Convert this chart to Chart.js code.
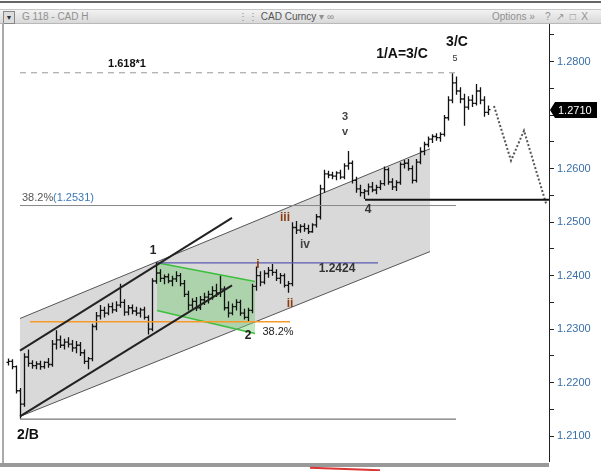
<!DOCTYPE html>
<html lang="en">
<head>
<meta charset="UTF-8">
<title>G 118 - CAD H</title>
<script src="https://cdn.jsdelivr.net/npm/chart.js"></script>
<style>
body { margin: 0; background: #fff; font-family: "Liberation Sans", Arial, sans-serif; }
#wrap { position: relative; width: 601px; height: 471px; overflow: hidden; background: #fff; }
#chart { position: absolute; left: 0; top: 0; }
#topline { position: absolute; left: 0; top: 1px; width: 601px; height: 2px; background: #666; }
#header { position: absolute; left: 0; top: 9px; width: 601px; height: 13px; background: linear-gradient(#f2f2f2, #d9d9d9); border-top: 1px solid #c8c8c8; border-bottom: 1px solid #b8b8b8; font-size: 10px; color: #909090; line-height: 13px; }
#header span { position: absolute; top: 0; }
#drop { position: absolute; left: 3px; top: 1px; width: 10px; height: 11px; background: #ddd; border: 1px solid #888; font-size: 7px; line-height: 11px; text-align: center; color: #333; }
#leftline { position: absolute; left: 2px; top: 23px; width: 2px; height: 441px; background: #aaa; }
#bottombar { position: absolute; left: 0; top: 463px; width: 549px; height: 4px; background: #999; }
#redline { position: absolute; left: 310px; top: 468px; width: 70px; height: 2px; background: #d33; transform: rotate(2deg); }
</style>
</head>
<body>
<div id="wrap">
  <canvas id="chart" width="601" height="471"></canvas>
  <div id="topline"></div>
  <div id="header">
    <div id="drop">&#9660;</div>
    <span style="left:22px">G 118 - CAD H</span>
    <span style="left:238px">&#8942;&#8942; <span style="position:static;color:#555">CAD Curncy</span> &#9662; &#8734;</span>
    <span style="left:492px">Options &#187;</span>
    <span style="left:545px">?&nbsp;&nbsp;&#8599;&nbsp;&nbsp;&#9633;&nbsp;&nbsp;X</span>
  </div>
  <div id="leftline"></div>
  <div id="bottombar"></div>
  <div id="redline"></div>
</div>

<script>
// hourly bars (bar index = hour)
const opens = [
  1.2238, 1.2240, 1.2230, 1.2185, 1.2160, 1.2248, 1.2236, 1.2232, 1.2235, 1.2230,
  1.2238, 1.2234, 1.2272, 1.2280, 1.2270, 1.2276, 1.2272, 1.2265, 1.2270, 1.2256,
  1.2240, 1.2245, 1.2305, 1.2325, 1.2335, 1.2330, 1.2342, 1.2336, 1.2345, 1.2350,
  1.2332, 1.2340, 1.2334, 1.2330, 1.2336, 1.2322, 1.2300, 1.2390, 1.2405, 1.2395,
  1.2398, 1.2390, 1.2394, 1.2400, 1.2385, 1.2365, 1.2345, 1.2352, 1.2340, 1.2355,
  1.2360, 1.2365, 1.2372, 1.2368, 1.2375, 1.2340, 1.2330, 1.2342, 1.2350, 1.2330,
  1.2322, 1.2335, 1.2380, 1.2400, 1.2388, 1.2404, 1.2410, 1.2406, 1.2395, 1.2400,
  1.2382, 1.2385, 1.2490, 1.2485, 1.2492, 1.2488, 1.2482, 1.2495, 1.2510, 1.2562,
  1.2590, 1.2588, 1.2586, 1.2592, 1.2584, 1.2605, 1.2610, 1.2578, 1.2562, 1.2555,
  1.2558, 1.2566, 1.2560, 1.2565, 1.2572, 1.2598, 1.2575, 1.2566, 1.2574, 1.2608,
  1.2610, 1.2600, 1.2578, 1.2612, 1.2632, 1.2645, 1.2655, 1.2660, 1.2658, 1.2664,
  1.2695, 1.2728, 1.2760, 1.2745, 1.2730, 1.2715, 1.2728, 1.2722, 1.2745, 1.2728,
  1.2705
];
const highs = [
  1.2245, 1.2244, 1.2232, 1.2190, 1.2255, 1.2262, 1.2242, 1.2240, 1.2241, 1.2240,
  1.2246, 1.2280, 1.2298, 1.2288, 1.2282, 1.2285, 1.2280, 1.2278, 1.2276, 1.2262,
  1.2248, 1.2310, 1.2332, 1.2345, 1.2342, 1.2348, 1.2350, 1.2352, 1.2385, 1.2356,
  1.2345, 1.2346, 1.2342, 1.2340, 1.2342, 1.2326, 1.2395, 1.2425, 1.2412, 1.2402,
  1.2404, 1.2400, 1.2408, 1.2405, 1.2392, 1.2372, 1.2358, 1.2360, 1.2362, 1.2368,
  1.2372, 1.2380, 1.2385, 1.2400, 1.2380, 1.2352, 1.2348, 1.2356, 1.2355, 1.2338,
  1.2340, 1.2385, 1.2417, 1.2408, 1.2410, 1.2416, 1.2422, 1.2412, 1.2405, 1.2404,
  1.2390, 1.2500, 1.2502, 1.2496, 1.2498, 1.2495, 1.2498, 1.2515, 1.2570, 1.2598,
  1.2596, 1.2594, 1.2595, 1.2598, 1.2610, 1.2633, 1.2615, 1.2585, 1.2570, 1.2562,
  1.2572, 1.2575, 1.2570, 1.2578, 1.2604, 1.2602, 1.2582, 1.2578, 1.2612, 1.2616,
  1.2618, 1.2606, 1.2618, 1.2640, 1.2650, 1.2660, 1.2664, 1.2666, 1.2668, 1.2700,
  1.2735, 1.2778, 1.2772, 1.2752, 1.2740, 1.2735, 1.2738, 1.2758, 1.2752, 1.2735,
  1.2718
];
const lows = [
  1.2232, 1.2225, 1.2180, 1.2133, 1.2155, 1.2230, 1.2226, 1.2225, 1.2224, 1.2226,
  1.2228, 1.2230, 1.2262, 1.2265, 1.2262, 1.2266, 1.2258, 1.2255, 1.2250, 1.2235,
  1.2225, 1.2240, 1.2298, 1.2318, 1.2322, 1.2326, 1.2330, 1.2332, 1.2340, 1.2325,
  1.2326, 1.2328, 1.2325, 1.2322, 1.2318, 1.2290, 1.2296, 1.2385, 1.2388, 1.2384,
  1.2386, 1.2380, 1.2388, 1.2380, 1.2360, 1.2335, 1.2338, 1.2334, 1.2336, 1.2345,
  1.2348, 1.2355, 1.2360, 1.2360, 1.2335, 1.2322, 1.2326, 1.2335, 1.2325, 1.2318,
  1.2314, 1.2330, 1.2372, 1.2380, 1.2384, 1.2396, 1.2400, 1.2390, 1.2385, 1.2378,
  1.2368, 1.2380, 1.2478, 1.2480, 1.2482, 1.2478, 1.2480, 1.2490, 1.2505, 1.2555,
  1.2582, 1.2580, 1.2578, 1.2580, 1.2580, 1.2598, 1.2572, 1.2555, 1.2548, 1.2543,
  1.2550, 1.2556, 1.2552, 1.2560, 1.2568, 1.2570, 1.2560, 1.2558, 1.2570, 1.2600,
  1.2596, 1.2572, 1.2574, 1.2608, 1.2625, 1.2640, 1.2648, 1.2652, 1.2650, 1.2660,
  1.2690, 1.2722, 1.2738, 1.2722, 1.2680, 1.2710, 1.2715, 1.2718, 1.2720, 1.2697,
  1.2700
];
const closes = [
  1.2240, 1.2230, 1.2185, 1.2160, 1.2248, 1.2236, 1.2232, 1.2235, 1.2230, 1.2238,
  1.2234, 1.2272, 1.2280, 1.2270, 1.2276, 1.2272, 1.2265, 1.2270, 1.2256, 1.2240,
  1.2245, 1.2305, 1.2325, 1.2335, 1.2330, 1.2342, 1.2336, 1.2345, 1.2350, 1.2332,
  1.2340, 1.2334, 1.2330, 1.2336, 1.2322, 1.2300, 1.2390, 1.2405, 1.2395, 1.2398,
  1.2390, 1.2394, 1.2400, 1.2385, 1.2365, 1.2345, 1.2352, 1.2340, 1.2355, 1.2360,
  1.2365, 1.2372, 1.2368, 1.2375, 1.2340, 1.2330, 1.2342, 1.2350, 1.2330, 1.2322,
  1.2335, 1.2380, 1.2400, 1.2388, 1.2404, 1.2410, 1.2406, 1.2395, 1.2400, 1.2382,
  1.2385, 1.2490, 1.2485, 1.2492, 1.2488, 1.2482, 1.2495, 1.2510, 1.2562, 1.2590,
  1.2588, 1.2586, 1.2592, 1.2584, 1.2605, 1.2610, 1.2578, 1.2562, 1.2555, 1.2558,
  1.2566, 1.2560, 1.2565, 1.2572, 1.2598, 1.2575, 1.2566, 1.2574, 1.2608, 1.2610,
  1.2600, 1.2578, 1.2612, 1.2632, 1.2645, 1.2655, 1.2660, 1.2658, 1.2664, 1.2695,
  1.2728, 1.2760, 1.2745, 1.2730, 1.2715, 1.2728, 1.2722, 1.2745, 1.2728, 1.2705,
  1.2710
];

// drawn studies: [barIndex, price] pairs
const channelTop = [[3, 1.2320], [105.5, 1.2637]];
const channelBottom = [[3, 1.2137], [105.5, 1.2445]];
const trendUpper = [[3, 1.2260], [56, 1.2508]];
const trendLower = [[3, 1.2137], [56, 1.2382]];
const flagTop = [[37.25, 1.2424], [61.75, 1.2389]];
const flagBottom = [[37.25, 1.2335], [61.75, 1.2292]];
const retrace382 = [[5.5, 1.2314], [70.5, 1.2314]];
const level1 = [[37.25, 1.2424], [92.5, 1.2424]];
const lowLine = [[3, 1.2132], [112, 1.2132]];
const fib382 = [[3, 1.2531], [112, 1.2531]];
const fib1618 = [[3, 1.2779], [112, 1.2779]];
const wave4Line = [[89.25, 1.2542], [135.25, 1.2542]];
const projection = [[121.5, 1.2717], [125.75, 1.2615], [129, 1.2671], [134.5, 1.2535]];

// wave labels: text, barIndex, price, colour, font
const waveLabels = [
  ['1/A=3/C', 98.5, 1.2814, '#111', 'bold 14px "Liberation Sans"'],
  ['3/C', 112.25, 1.2836, '#111', 'bold 14px "Liberation Sans"'],
  ['5', 111.75, 1.2806, '#333', '9px "Liberation Sans"'],
  ['1.618*1', 29.75, 1.2796, '#111', 'bold 11px "Liberation Sans"'],
  ['1', 36.25, 1.2446, '#222', 'bold 12px "Liberation Sans"'],
  ['2', 60, 1.2288, '#222', 'bold 12px "Liberation Sans"'],
  ['38.2%', 67.5, 1.2294, '#222', '11px "Liberation Sans"'],
  ['i', 62.5, 1.2421, '#8a3c10', 'bold 12px "Liberation Sans"'],
  ['ii', 70.5, 1.2348, '#8a3c10', 'bold 12px "Liberation Sans"'],
  ['iii', 69.25, 1.2509, '#8a3c10', 'bold 12px "Liberation Sans"'],
  ['iv', 74.25, 1.2458, '#444', 'bold 12px "Liberation Sans"'],
  ['v', 84.25, 1.2669, '#444', 'bold 11px "Liberation Sans"'],
  ['3', 84.25, 1.2697, '#444', 'bold 11px "Liberation Sans"'],
  ['4', 90, 1.2523, '#333', 'bold 12px "Liberation Sans"'],
  ['2/B', 5, 1.2102, '#111', 'bold 14px "Liberation Sans"'],
  ['1.2424', 82.25, 1.2413, '#333', 'bold 12px "Liberation Sans"']
];
const fibLabel = ['38.2%(1.2531)', 3.5, 1.2545];

const pts = arr => arr.map(p => ({ x: p[0], y: p[1] }));

function lineSet(arr, color, width, extra) {
  return Object.assign({
    data: pts(arr), borderColor: color, borderWidth: width,
    pointRadius: 0, fill: false, tension: 0, order: 1
  }, extra || {});
}

// OHLC bars go on top of the channel/flag fills, under the drawn lines
const ohlcPlugin = {
  id: 'ohlc',
  afterDatasetDraw(chart, args) {
    if (!chart.data.datasets[args.index].barsAfter) return;
    const { ctx, scales: { x, y } } = chart;
    ctx.save();
    ctx.strokeStyle = '#111';
    ctx.lineWidth = 1.3;
    for (let i = 0; i < closes.length; i++) {
      const px = Math.round(x.getPixelForValue(i)) + 0.5;
      ctx.beginPath();
      ctx.moveTo(px, y.getPixelForValue(highs[i]));
      ctx.lineTo(px, y.getPixelForValue(lows[i]));
      ctx.moveTo(px - 2, y.getPixelForValue(opens[i]));
      ctx.lineTo(px, y.getPixelForValue(opens[i]));
      ctx.moveTo(px, y.getPixelForValue(closes[i]));
      ctx.lineTo(px + 2, y.getPixelForValue(closes[i]));
      ctx.stroke();
    }
    ctx.restore();
  }
};

const textPlugin = {
  id: 'labels',
  afterDraw(chart) {
    const { ctx, scales: { x, y } } = chart;
    ctx.save();
    ctx.textAlign = 'center';
    ctx.textBaseline = 'middle';
    waveLabels.forEach(l => {
      ctx.font = l[4];
      ctx.fillStyle = l[3];
      ctx.fillText(l[0], x.getPixelForValue(l[1]), y.getPixelForValue(l[2]));
    });
    ctx.textAlign = 'left';
    ctx.font = '11px "Liberation Sans"';
    ctx.fillStyle = '#555';
    ctx.fillText('38.2%', x.getPixelForValue(fibLabel[1]), y.getPixelForValue(fibLabel[2]));
    ctx.fillStyle = '#3a78b8';
    ctx.fillText('(1.2531)', x.getPixelForValue(fibLabel[1]) + 31, y.getPixelForValue(fibLabel[2]));

    // last price tag on the axis
    const last = closes[closes.length - 1];
    const py = Math.round(y.getPixelForValue(last));
    const ax = y.left;
    ctx.fillStyle = '#000';
    ctx.beginPath();
    ctx.moveTo(ax + 1, py);
    ctx.lineTo(ax + 6, py - 8);
    ctx.lineTo(ax + 48, py - 8);
    ctx.lineTo(ax + 48, py + 8);
    ctx.lineTo(ax + 6, py + 8);
    ctx.closePath();
    ctx.fill();
    ctx.fillStyle = '#fff';
    ctx.font = '11px "Liberation Sans"';
    ctx.fillText(last.toFixed(4), ax + 9, py + 1);
    ctx.restore();
  }
};

const datasets = [
  // gray channel
  lineSet(channelTop, '#555', 1, { fill: '+1', backgroundColor: '#d9d9d9', order: 20 }),
  lineSet(channelBottom, '#555', 1, { order: 19 }),
  // green flag
  lineSet(flagTop, '#3cbf3c', 1.5, { fill: '+1', backgroundColor: 'rgba(120,205,120,0.45)', order: 18 }),
  lineSet(flagBottom, '#3cbf3c', 1.5, { order: 17, barsAfter: true }),
  lineSet(trendUpper, '#222', 2),
  lineSet(trendLower, '#222', 2),
  lineSet(retrace382, '#f79a2a', 1.5),
  lineSet(level1, '#5a5ab0', 1.3),
  lineSet(lowLine, '#555', 1),
  lineSet(fib382, '#888', 1),
  lineSet(fib1618, '#999', 1, { borderDash: [6, 5] }),
  lineSet(wave4Line, '#111', 2),
  lineSet(projection, '#555', 2, { borderDash: [2, 2] })
];

const chart = new Chart(document.getElementById('chart'), {
  type: 'line',
  data: { datasets: datasets },
  options: {
    responsive: false,
    animation: false,
    layout: { padding: { left: 4, top: 23, bottom: 8, right: 0 } },
    plugins: { legend: { display: false }, tooltip: { enabled: false } },
    scales: {
      x: { type: 'linear', display: false, min: -1, max: 135.25 },
      y: {
        position: 'right',
        min: 1.2053,
        max: 1.2872,
        afterFit(scale) { scale.width = 52; },
        border: { display: true, color: '#222', width: 1 },
        grid: { drawOnChartArea: false, drawTicks: true, tickLength: 5, tickColor: '#222' },
        ticks: {
          stepSize: 0.005,
          includeBounds: false,
          autoSkip: false,
          padding: 3,
          color: '#3a6ea8',
          font: { size: 11, family: 'Liberation Sans' },
          callback: v => Math.round(v * 10000) % 100 === 0 ? v.toFixed(4) : ''
        }
      }
    }
  },
  plugins: [ohlcPlugin, textPlugin]
});
</script>
</body>
</html>
